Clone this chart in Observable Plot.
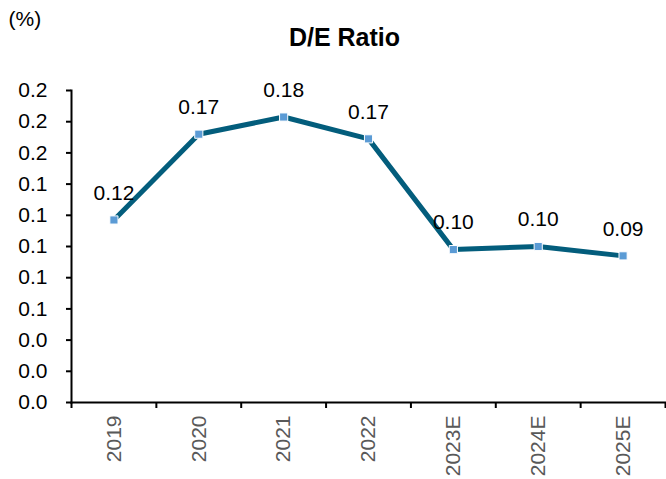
<!DOCTYPE html>
<html>
<head>
<meta charset="utf-8">
<script src="https://cdn.jsdelivr.net/npm/d3@7"></script>
<script src="https://cdn.jsdelivr.net/npm/@observablehq/plot@0.6"></script>
<style>
  html, body { margin: 0; padding: 0; background: #fff; }
  #chart svg { display: block; }
</style>
</head>
<body>
<div id="chart"></div>
<script>
const categories = ["2019", "2020", "2021", "2022", "2023E", "2024E", "2025E"];
const values = [0.117, 0.172, 0.183, 0.169, 0.098, 0.100, 0.094];
const valueLabels = ["0.12", "0.17", "0.18", "0.17", "0.10", "0.10", "0.09"];
const yTicks = [0, 0.02, 0.04, 0.06, 0.08, 0.10, 0.12, 0.14, 0.16, 0.18, 0.20];
const yTickLabels = ["0.0", "0.0", "0.0", "0.1", "0.1", "0.1", "0.1", "0.1", "0.2", "0.2", "0.2"];
const titleText = "D/E Ratio";
const unitText = "(%)";

const data = categories.map((c, i) => ({cat: c, value: values[i], label: valueLabels[i]}));

const W = 666, H = 479;
const mL = 71, mR = 1, mT = 90, mB = 77;
const bw = (W - mL - mR) / categories.length;
const font = "Liberation Sans, Arial, Helvetica, sans-serif";

const chart = Plot.plot({
  width: W,
  height: H,
  marginLeft: mL,
  marginRight: mR,
  marginTop: mT,
  marginBottom: mB,
  style: {fontFamily: font, fontSize: "21px", color: "#000", background: "#fff"},
  x: {type: "band", domain: categories, padding: 0, round: false},
  y: {domain: [0, 0.2]},
  marks: [
    Plot.axisY({
      ticks: yTicks,
      tickFormat: (d) => yTickLabels[yTicks.findIndex(t => Math.abs(t - d) < 1e-9)],
      tickSize: 5,
      tickPadding: 19,
      strokeWidth: 2,
      fontSize: 21,
      fill: "#000",
      label: null
    }),
    Plot.axisX({
      tickRotate: -90,
      tickSize: 0,
      tickPadding: 13,
      fontSize: 21,
      fill: "#595959",
      label: null
    }),
    Plot.axisX({
      tickSize: 6,
      tickFormat: () => "",
      strokeWidth: 2,
      dx: -bw / 2,
      label: null
    }),
    Plot.axisX({
      ticks: [categories[categories.length - 1]],
      tickSize: 6,
      tickFormat: () => "",
      strokeWidth: 2,
      dx: bw / 2,
      label: null
    }),
    Plot.frame({anchor: "left", stroke: "#000", strokeWidth: 2}),
    Plot.frame({anchor: "bottom", stroke: "#000", strokeWidth: 2}),
    Plot.line(data, {x: "cat", y: "value", stroke: "#035d7c", strokeWidth: 5}),
    Plot.dot(data, {x: "cat", y: "value", symbol: "square", r: 4.6, fill: "#5b9bd5", stroke: "#fff", strokeWidth: 1}),
    Plot.text(data, {x: "cat", y: "value", text: "label", dy: -27, fontSize: 21, fill: "#000"}),
    Plot.text([titleText], {frameAnchor: "top", lineAnchor: "middle", dx: -24, dy: -53, fontSize: 25, fontWeight: "bold", fill: "#000"}),
    Plot.text([unitText], {frameAnchor: "top-left", lineAnchor: "middle", textAnchor: "start", dx: -63, dy: -71, fontSize: 21, fill: "#000"})
  ]
});
document.getElementById("chart").appendChild(chart);
</script>
</body>
</html>
